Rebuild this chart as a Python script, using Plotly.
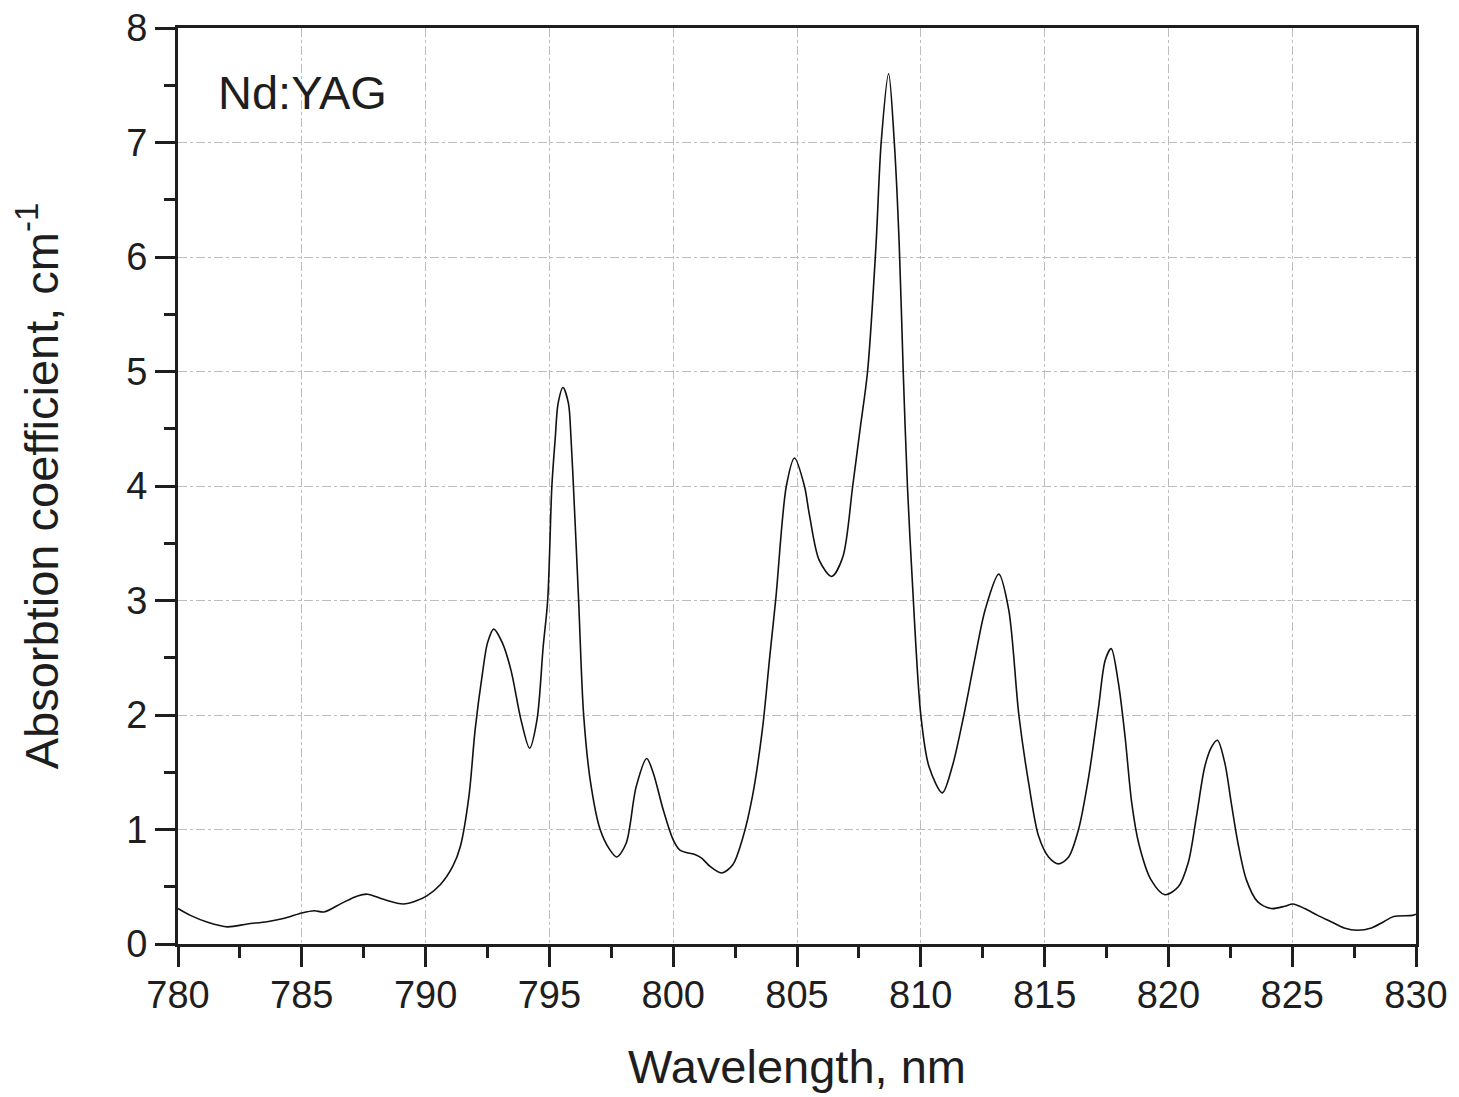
import plotly.graph_objects as go

# Wavelength (nm) and absorption coefficient (cm^-1)
wavelength = [
    780.0, 780.5, 781.2, 782.0, 782.8, 783.6, 784.3, 785.0, 785.5, 785.9,
    786.6, 787.25, 787.65, 788.3, 789.1, 789.65, 790.05, 790.6, 791.1, 791.4,
    791.75, 792.0, 792.3, 792.5, 792.75, 793.1, 793.45, 793.85, 794.2, 794.5,
    794.75, 794.93, 795.1, 795.24, 795.35, 795.55, 795.77, 795.87, 795.97, 796.18,
    796.38, 796.65, 797.05, 797.45, 797.72, 798.1, 798.5, 798.93, 799.2, 799.6,
    800.0, 800.27, 800.9, 801.15, 801.5, 801.95, 802.4, 802.8, 803.2, 803.6,
    803.9, 804.15, 804.57, 804.9, 805.3, 805.5, 805.9, 806.4, 806.85, 807.25,
    807.55, 807.85, 808.19, 808.4, 808.7, 808.93, 809.13, 809.29, 809.46, 809.65,
    810.0, 810.33, 810.87, 811.27, 811.74, 812.2, 812.6, 813.15, 813.55, 813.96,
    814.36, 814.76, 815.16, 815.57, 815.97, 816.37, 816.78, 817.18, 817.45, 817.69,
    817.98, 818.25, 818.52, 818.8, 819.3, 819.86, 820.4, 820.8, 821.13, 821.47,
    821.74, 821.98, 822.28, 822.54, 822.81, 823.15, 823.6, 824.15, 824.7, 825.03,
    825.5, 826.03, 826.57, 827.1, 827.64, 828.2, 828.7, 829.1, 829.85, 830.0,
]
absorption = [
    0.31, 0.25, 0.19, 0.15, 0.175, 0.195, 0.225, 0.27, 0.29, 0.28,
    0.355, 0.42, 0.435, 0.39, 0.35, 0.38, 0.42, 0.52, 0.68, 0.85,
    1.29, 1.87, 2.37, 2.63, 2.75, 2.63, 2.39, 1.96, 1.71, 1.96,
    2.6, 3.0, 4.0, 4.43, 4.72, 4.86, 4.72, 4.43, 4.0, 3.0,
    2.01, 1.43, 1.0, 0.82, 0.76, 0.88, 1.37, 1.62, 1.49, 1.17,
    0.91, 0.82, 0.78, 0.75, 0.675, 0.62, 0.69, 0.92, 1.29, 1.87,
    2.51, 3.03, 4.0, 4.245, 4.0, 3.75, 3.35, 3.21, 3.38, 4.0,
    4.5, 5.0, 6.1, 7.0, 7.6, 7.0, 6.1, 5.0, 4.0, 3.2,
    2.0, 1.55, 1.32, 1.55, 2.0, 2.51, 2.92, 3.23, 2.92, 2.0,
    1.40, 0.94, 0.76, 0.70, 0.76, 1.0, 1.46, 2.07, 2.48, 2.58,
    2.28, 1.81, 1.23, 0.88, 0.56, 0.43, 0.50, 0.71, 1.11, 1.55,
    1.72, 1.78, 1.58, 1.23, 0.88, 0.56, 0.37, 0.31, 0.33, 0.35,
    0.31, 0.25, 0.195, 0.14, 0.12, 0.14, 0.195, 0.24, 0.25, 0.26,
]

x_ticks = [780, 785, 790, 795, 800, 805, 810, 815, 820, 825, 830]
y_ticks = [0, 1, 2, 3, 4, 5, 6, 7, 8]

FONT = "Liberation Sans, Arial, Helvetica, sans-serif"
INK = "#1e1e1e"

fig = go.Figure()
fig.add_trace(go.Scatter(
    x=wavelength, y=absorption, mode="lines",
    line=dict(color="#111111", width=1.6, shape="spline", smoothing=0.85),
    showlegend=False,
))

axis_common = dict(
    showline=True, linecolor=INK, linewidth=3, mirror=True,
    ticks="outside", ticklen=20, tickwidth=3, tickcolor=INK,
    showgrid=True, gridcolor="#bdbdbd", gridwidth=1, griddash="dashdot",
    zeroline=False, automargin=False, ticklabeloverflow="allow",
    tickfont=dict(family=FONT, size=38, color=INK),
)

fig.update_xaxes(
    range=[780, 830], tickmode="array", tickvals=x_ticks,
    ticktext=[str(v) for v in x_ticks],
    ticklabelstandoff=-5,
    minor=dict(ticks="outside", ticklen=11, tickwidth=3, tickcolor=INK, dtick=2.5, showgrid=False),
    title=dict(text="Wavelength, nm", font=dict(family=FONT, size=47, color=INK), standoff=44),
    **axis_common,
)
fig.update_yaxes(
    range=[0, 8], tickmode="array", tickvals=y_ticks,
    ticktext=[str(v) for v in y_ticks],
    minor=dict(ticks="outside", ticklen=11, tickwidth=3, tickcolor=INK, dtick=0.5, showgrid=False),
    title=dict(text="Absorbtion coefficient, cm<sup>-1</sup>", font=dict(family=FONT, size=47, color=INK), standoff=60),
    **axis_common,
)

fig.add_annotation(
    text="Nd:YAG", xref="paper", yref="paper", x=0.031, y=0.930,
    xanchor="left", yanchor="middle", showarrow=False,
    font=dict(family=FONT, size=47, color=INK),
)

fig.update_layout(
    width=1443, height=1085,
    margin=dict(l=170, r=35, t=20, b=149),
    paper_bgcolor="white", plot_bgcolor="white",
)

fig.write_html("out.html")
